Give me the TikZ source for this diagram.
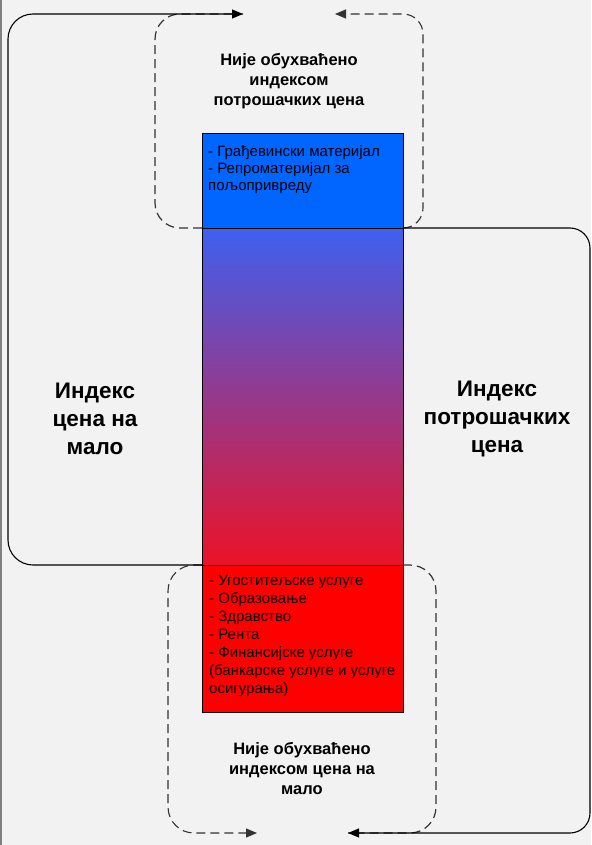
\documentclass[tikz,border=0pt]{standalone}
\usepackage{fontspec}
\setmainfont{Liberation Sans}
\usetikzlibrary{arrows.meta,positioning}
\definecolor{bg}{HTML}{F2F2F2}
\definecolor{barblue}{HTML}{0066FF}
\definecolor{barred}{HTML}{FF0000}
\definecolor{shadetop}{RGB}{62,96,240}
\definecolor{shadebot}{RGB}{236,18,40}
\definecolor{dashgray}{HTML}{333333}

\begin{document}
\begin{tikzpicture}[
    x=1pt, y=-1pt,
    bar/.style={draw, line width=0.9pt, minimum width=201pt, inner sep=0pt, outer sep=0pt},
    heading/.style={font=\fontsize{16.5}{20}\selectfont\bfseries, align=center},
    side/.style={font=\fontsize{22.5}{28}\selectfont\bfseries, align=center},
    list/.style={font=\fontsize{15}{18}\selectfont, align=left, inner sep=0pt, anchor=north west},
    arrow/.style={-{Triangle[length=11pt,width=9pt]}, line width=1.1pt},
    dashline/.style={draw=dashgray, line width=1.2pt, dash pattern=on 9pt off 5pt}
  ]
    \fill[bg] (0,0) rectangle (591,845);
    \useasboundingbox (0,0) rectangle (591,845);
    \draw[gray, line width=2pt] (1,0) -- (1,845);

    \node[bar, fill=barblue, minimum height=95pt] (top) at (302.5,180.5) {};
    \node[bar, top color=shadetop, bottom color=shadebot, minimum height=337pt, below=0pt of top] (mid) {};
    \node[bar, fill=barred, minimum height=147pt, below=0pt of mid] (low) {};

    \node[list, font=\fontsize{15}{17}\selectfont] (toplist) at ([shift={(6pt,-12pt)}]top.north west)
      {- Грађевински материјал\\- Репроматеријал за\\пољопривреду};
    \node[list] (lowlist) at ([shift={(7pt,-10pt)}]low.north west)
      {- Угоститељске услуге\\- Образовање\\- Здравство\\- Рента\\- Финансијске услуге\\(банкарске услуге и услуге\\осигурања)};

    \node[heading] (topnote) at (289,81) {Није обухваћено\\индексом\\потрошачких цена};
    \node[heading] (lownote) at (302,769) {Није обухваћено\\индексом цена на\\мало};
    \node[side] (retail) at (95,419) {Индекс\\цена на\\мало};
    \node[side] (cpi) at (497,419) {Индекс\\потрошачких\\цена};

    \coordinate (lefttip) at (243,14);
    \coordinate (righttip) at (335,14);
    \coordinate (lowtip) at (257,833);
    \coordinate (cpitip) at (348,833);

    % not covered
    \draw[dashline, rounded corners=25pt] (top.south west) -- ++(-47,0) |- (lefttip);
    \draw[dashline, arrow, rounded corners=20pt] (top.south east) -- ++(20,0) |- (righttip);
    \draw[dashline, arrow, rounded corners=26pt] (low.north west) -- ++(-34,0) |- (lowtip);
    \draw[dashline, rounded corners=26pt] (low.north east) -- ++(33,0) |- (cpitip);
    % covered
    \draw[arrow, rounded corners=25pt] (low.north west) -- ++(-194,0) |- (lefttip);
    \draw[arrow, rounded corners=20pt] (mid.north east) -- ++(187,0) |- (cpitip);
\end{tikzpicture}
\end{document}
